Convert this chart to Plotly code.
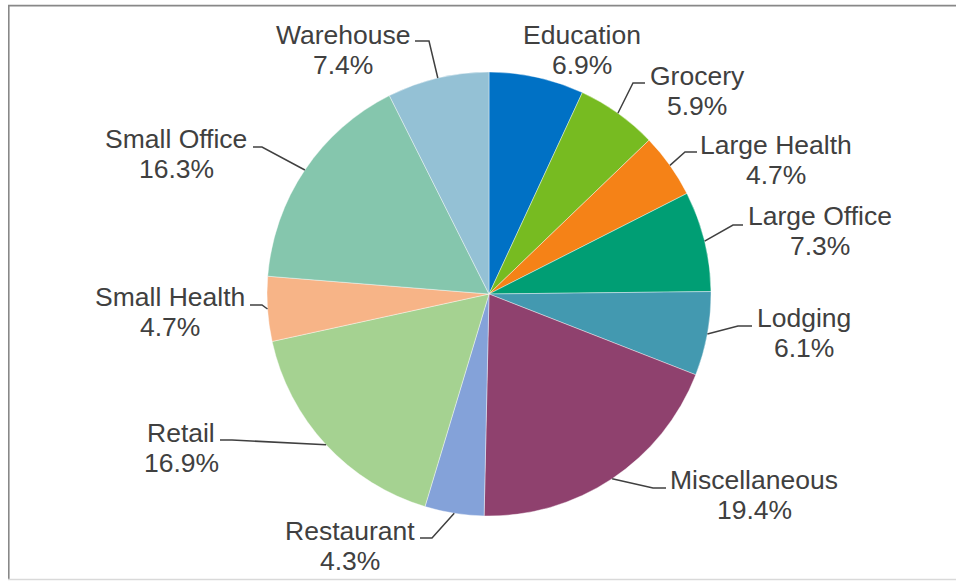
import math
import plotly.graph_objects as go

# Building types and their share of the total (%)
categories = ["Education", "Grocery", "Large Health", "Large Office", "Lodging",
              "Miscellaneous", "Restaurant", "Retail", "Small Health",
              "Small Office", "Warehouse"]
shares = [6.9, 5.9, 4.7, 7.3, 6.1, 19.4, 4.3, 16.9, 4.7, 16.3, 7.4]
colors = ["#0071C5", "#77BB21", "#F58217", "#009E74", "#4399B0", "#8F416E",
          "#84A2D9", "#A5D291", "#F7B487", "#85C6AD", "#94C1D5"]

W, H = 956, 581
PIE_CX, PIE_CY, PIE_R = 489, 294, 222  # pie centre and radius in pixels

# Label layout: (text centre x, first-line centre y, attach point, elbow point) in pixels
label_layout = {
    "Education":     (582, 35,  None, None),
    "Grocery":       (697, 76,  (645, 83),  (633, 83)),
    "Large Health":  (776, 145, (697, 152), (685, 152)),
    "Large Office":  (820, 216, (743, 225), (733, 225)),
    "Lodging":       (804, 318, (752, 326), (738, 326)),
    "Miscellaneous": (754, 480, (666, 488), (653, 488)),
    "Restaurant":    (350, 531, (420, 538), (432, 538)),
    "Retail":        (181, 433, (220, 440), (232, 440)),
    "Small Health":  (170, 297, (250, 305), (262, 305)),
    "Small Office":  (176, 139, (253, 147), (262, 147)),
    "Warehouse":     (343, 35,  (415, 41),  (429, 41)),
}
LINE_GAP = 30
TEXT_COLOR = "#404040"
FONT = "Liberation Sans, Arial, sans-serif"
FONT_SIZE = 26.5


def px(x):
    return x / W


def py(y):
    return 1 - y / H


fig = go.Figure(go.Pie(
    labels=categories,
    values=shares,
    marker=dict(colors=colors, line=dict(color="white", width=0.4)),
    sort=False,
    direction="clockwise",
    rotation=0,
    textinfo="none",
    hoverinfo="label+percent",
    showlegend=False,
    domain=dict(x=[px(PIE_CX - PIE_R), px(PIE_CX + PIE_R)],
                y=[py(PIE_CY + PIE_R), py(PIE_CY - PIE_R)]),
))

annotations = []
shapes = []
total = sum(shares)
cum = 0.0
for name, val in zip(categories, shares):
    mid = (cum + val / 2) / total * 2 * math.pi
    cum += val
    tx, ty, attach, elbow = label_layout[name]
    annotations.append(dict(x=px(tx), y=py(ty), xref="paper", yref="paper",
                            text=name, showarrow=False, xanchor="center", yanchor="middle",
                            font=dict(family=FONT, size=FONT_SIZE, color=TEXT_COLOR)))
    annotations.append(dict(x=px(tx), y=py(ty + LINE_GAP), xref="paper", yref="paper",
                            text=f"{val:.1f}%", showarrow=False, xanchor="center", yanchor="middle",
                            font=dict(family=FONT, size=FONT_SIZE, color=TEXT_COLOR)))
    if attach is None:
        continue
    ex = PIE_CX + PIE_R * math.sin(mid)
    ey = PIE_CY - PIE_R * math.cos(mid)
    path = (f"M {px(attach[0])},{py(attach[1])} L {px(elbow[0])},{py(elbow[1])} "
            f"L {px(ex)},{py(ey)}")
    shapes.append(dict(type="path", path=path, xref="paper", yref="paper",
                       line=dict(color=TEXT_COLOR, width=1.5)))

# Chart frame
shapes.append(dict(type="line", xref="paper", yref="paper",
                   x0=px(8.8), x1=px(8.8), y0=py(5.5), y1=py(579.5),
                   line=dict(color="#888888", width=1.6)))
shapes.append(dict(type="line", xref="paper", yref="paper",
                   x0=px(8), x1=px(960), y0=py(5.6), y1=py(5.6),
                   line=dict(color="#888888", width=1.6)))
shapes.append(dict(type="line", xref="paper", yref="paper",
                   x0=px(8), x1=px(960), y0=py(579.5), y1=py(579.5),
                   line=dict(color="#D9D9D9", width=1.5)))

fig.update_layout(
    width=W, height=H,
    margin=dict(l=0, r=0, t=0, b=0),
    paper_bgcolor="white",
    plot_bgcolor="white",
    annotations=annotations,
    shapes=shapes,
)

fig.write_html("out.html")
